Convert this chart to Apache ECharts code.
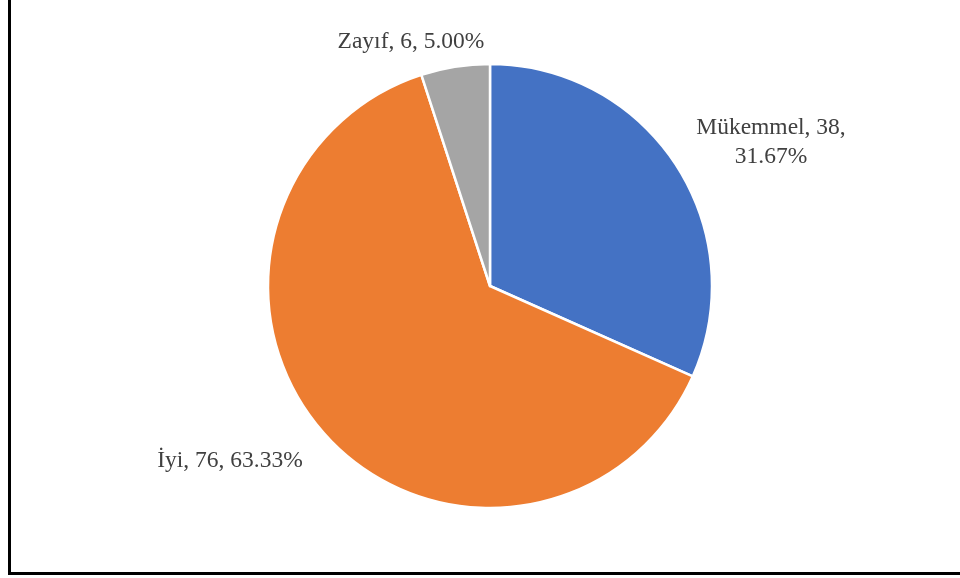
<!DOCTYPE html>
<html>
<head>
<meta charset="utf-8">
<script src="https://cdn.jsdelivr.net/npm/echarts@6/dist/echarts.min.js"></script>
<style>
  html, body { margin: 0; padding: 0; background: #fff; }
  #chart { width: 960px; height: 578px; }
</style>
</head>
<body>
<div id="chart"></div>
<script>
// Rating categories and their counts
const categories = ['Mükemmel', 'İyi', 'Zayıf'];
const counts = [38, 76, 6];
const colors = ['#4472C4', '#ED7D31', '#A5A5A5'];

// Label anchor points (centre of each label block)
const labelSpots = [
  { x: 771, y: 142 },
  { x: 230, y: 461 },
  { x: 411, y: 42 }
];

const chart = echarts.init(document.getElementById('chart'), null, { renderer: 'canvas' });

chart.setOption({
  animation: false,
  backgroundColor: '#ffffff',
  graphic: [{
    type: 'rect',
    shape: { x: 9.5, y: -10, width: 1000, height: 583.5 },
    style: { fill: 'none', stroke: '#000', lineWidth: 3 },
    z: 100
  }],
  series: [{
    type: 'pie',
    center: [490, 286],
    radius: 222,
    startAngle: 90,
    clockwise: true,
    data: categories.map((name, i) => ({
      name,
      value: counts[i],
      itemStyle: { color: colors[i] }
    })),
    itemStyle: { borderColor: '#fff', borderWidth: 2.5 },
    label: {
      show: true,
      position: 'outside',
      fontFamily: '"Liberation Serif", "Times New Roman", serif',
      fontSize: 23.5,
      color: '#404040',
      lineHeight: 29,
      align: 'center',
      formatter: p => {
        const pct = p.percent.toFixed(2) + '%';
        return p.dataIndex === 0
          ? `${p.name}, ${p.value},\n${pct}`
          : `${p.name}, ${p.value}, ${pct}`;
      }
    },
    labelLine: { show: false },
    labelLayout: p => ({
      x: labelSpots[p.dataIndex].x,
      y: labelSpots[p.dataIndex].y,
      align: 'center',
      verticalAlign: 'middle'
    })
  }]
});
</script>
</body>
</html>
